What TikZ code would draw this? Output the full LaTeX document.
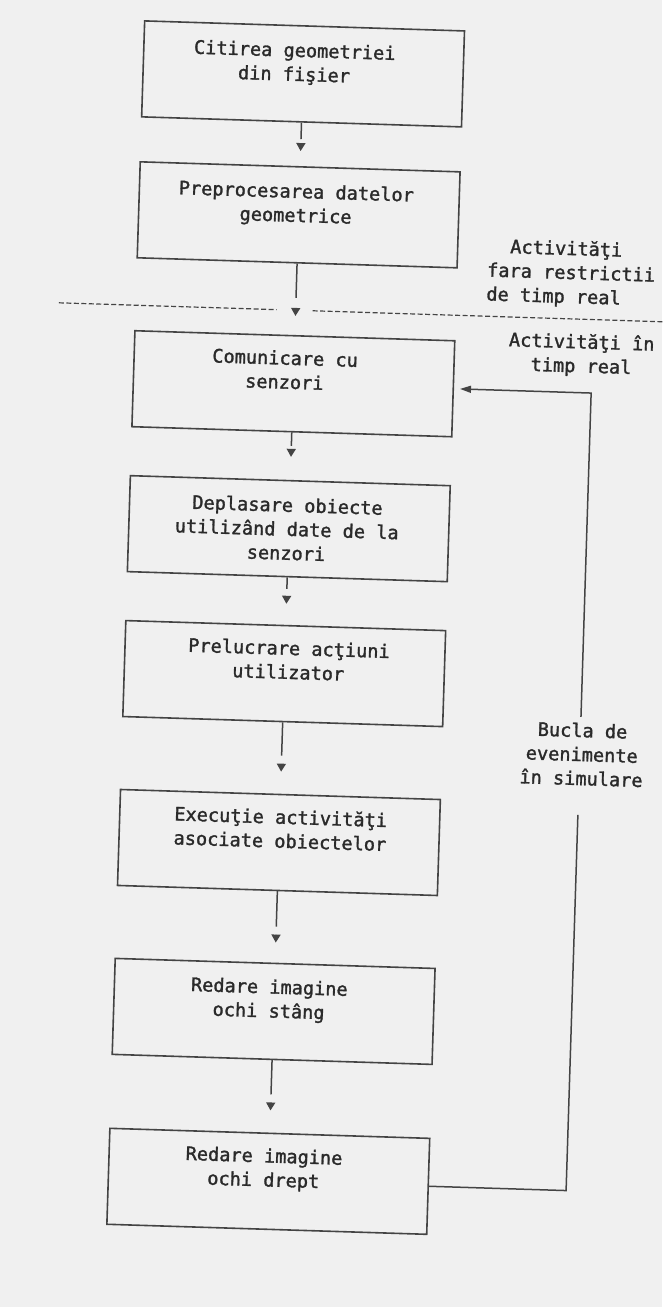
\documentclass[tikz,border=0pt]{standalone}
\usepackage{fontspec}
\newfontfamily\tw[FakeBold=1.5]{DejaVu Sans Mono}
\usetikzlibrary{arrows.meta}
\definecolor{ink}{HTML}{444444}
\definecolor{txtc}{HTML}{2A2A2A}
\definecolor{bg}{HTML}{F0F0F0}
\newcommand\myfirst{\rule{0pt}{18pt}}
\begin{document}
\begin{tikzpicture}[x=1pt,y=1pt,
  box/.style={draw=ink, line width=1.6pt, minimum width=320pt, minimum height=96pt, inner sep=0pt},
  txt/.style={font=\tw\fontsize{18.6}{24}\selectfont, text=txtc, inner sep=0pt, align=center, anchor=north},
  ln/.style={draw=ink, line width=1.5pt},
  stem/.style={ln, shorten >=#1},
  tip/.style 2 args={ln, -{Triangle[length=8pt,width=9pt]}, shorten >=#1, shorten <=#2},
  sepline/.style={draw=ink, line width=1.2pt, dash pattern=on 5pt off 2.5pt}]
\useasboundingbox (0,0) rectangle (662,-1307);
\fill[bg] (0,0) rectangle (662,-1307);
\begin{scope}[rotate around={-1.8:(330,-650)}, transform shape]
  % boxes
  \node[box] (b1) at (285,-75) {};
  \node[box] (b2) at (285,-216) {};
  \node[box] (b3) at (285,-385) {};
  \node[box] (b4) at (285,-530) {};
  \node[box] (b5) at (285,-675) {};
  \node[box] (b6) at (285,-844) {};
  \node[box] (b7) at (285,-1013) {};
  \node[box] (b8) at (285,-1183) {};
  % box texts
  \node[txt] (t1) at (276,-40) {\myfirst Citirea geometriei\\din fişier};
  \node[txt] (t2) at (282,-181) {\myfirst Preprocesarea datelor\\geometrice};
  \node[txt] (t3) at (276,-348) {\myfirst Comunicare cu\\senzori};
  \node[txt] (t4) at (283,-495) {\myfirst Deplasare obiecte\\utilizând date de la\\senzori};
  \node[txt] (t5) at (289,-638) {\myfirst Prelucrare acţiuni\\utilizator};
  \node[txt] (t6) at (286,-807) {\myfirst Execuţie activităţi\\asociate obiectelor};
  \node[txt] (t7) at (280,-977) {\myfirst Redare imagine\\ochi stâng};
  \node[txt] (t8) at (280,-1146) {\myfirst Redare imagine\\ochi drept};
  % side labels
  \node[txt, anchor=north west, align=left] (l1) at (475,-229.5) {\myfirst\phantom{xx}Activităţi\\fara restrictii\\de timp real};
  \node[txt] (l2) at (572,-322.5) {\myfirst Activităţi în\\timp real};
  \node[txt] (l3) at (585,-711) {\myfirst Bucla de\\evenimente\\în simulare};
  % separator
  \coordinate (d1) at (48,-311.5);
  \coordinate (d2) at (266,-311.5);
  \coordinate (d3) at (302,-311.5);
  \coordinate (d4) at (720,-311.5);
  \draw[sepline] (d1) -- (d2);
  \draw[sepline] (d3) -- (d4);
  % connectors: stem, then a detached arrowhead
  \draw[stem=27pt] (b1) -- (b2);
  \draw[tip={15pt}{21.5pt}] (b1) -- (b2);
  \draw[stem=37pt] (b2) -- (b3);
  \draw[tip={19pt}{45.5pt}] (b2) -- (b3);
  \draw[stem=34pt] (b3) -- (b4);
  \draw[tip={23pt}{17.5pt}] (b3) -- (b4);
  \draw[stem=36pt] (b4) -- (b5);
  \draw[tip={21pt}{19.5pt}] (b4) -- (b5);
  \draw[stem=38pt] (b5) -- (b6);
  \draw[tip={22pt}{42.5pt}] (b5) -- (b6);
  \draw[stem=36pt] (b6) -- (b7);
  \draw[tip={20pt}{44.5pt}] (b6) -- (b7);
  \draw[stem=38pt] (b7) -- (b8);
  \draw[tip={22pt}{43.5pt}] (b7) -- (b8);
  % event loop
  \coordinate (c8) at (583,-1183);
  \coordinate (lb) at (583,-807);
  \coordinate (lt) at (583,-709);
  \coordinate (c3) at (583,-385);
  \draw[ln] (b8.east) -- (c8) -- (lb);
  \draw[ln, -{Triangle[length=11pt,width=7pt]}, shorten >=6pt] (lt) -- (c3) -- (b3.east);
\end{scope}
\end{tikzpicture}
\end{document}
